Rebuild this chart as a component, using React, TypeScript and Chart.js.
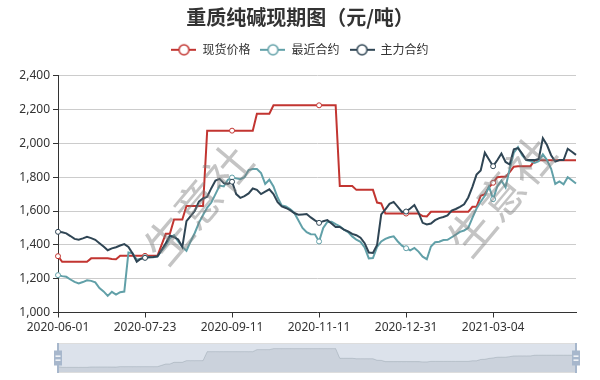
import React, { useEffect, useRef } from 'react';
import { Chart, registerables } from 'chart.js';

Chart.register(...registerables);

// ---- data ----
const TICK_DATES = ['2020-06-01', '2020-07-23', '2020-09-11', '2020-11-11', '2020-12-31', '2021-03-04'];
const LABEL_STEP = 21;

const SPOT = [
  1333, 1300, 1300, 1300, 1300, 1300, 1300, 1300, 1320, 1320,
  1320, 1320, 1320, 1317, 1315, 1335, 1335, 1335, 1335, 1335,
  1335, 1335, 1335, 1335, 1335, 1400, 1465, 1465, 1550, 1550,
  1550, 1630, 1630, 1630, 1630, 1630, 2075, 2075, 2075, 2075,
  2075, 2075, 2075, 2075, 2075, 2075, 2075, 2075, 2175, 2175,
  2175, 2175, 2225, 2225, 2225, 2225, 2225, 2225, 2225, 2225,
  2225, 2225, 2225, 2225, 2225, 2225, 2225, 2225, 1748, 1748,
  1748, 1748, 1725, 1725, 1725, 1725, 1725, 1650, 1645, 1585,
  1585, 1585, 1585, 1585, 1585, 1585, 1585, 1585, 1570, 1568,
  1595, 1595, 1595, 1595, 1595, 1595, 1595, 1595, 1595, 1595,
  1625, 1625, 1690, 1700, 1740, 1767, 1800, 1802, 1802, 1830,
  1862, 1865, 1865, 1865, 1865, 1898, 1900, 1900, 1900, 1900,
  1900, 1900, 1900, 1900, 1900, 1900,
];

const NEAR = [
  1221, 1215, 1211, 1195, 1181, 1172, 1180, 1190, 1187, 1178,
  1145, 1125, 1098, 1122, 1106, 1120, 1124, 1355, 1350, 1312,
  1318, 1326, 1326, 1327, 1330, 1365, 1395, 1440, 1457, 1420,
  1388, 1365, 1420, 1470, 1530, 1576, 1620, 1650, 1700, 1750,
  1745, 1785, 1798, 1793, 1788, 1800, 1842, 1848, 1848, 1825,
  1760, 1785, 1745, 1680, 1632, 1627, 1612, 1590, 1546, 1500,
  1475, 1463, 1462, 1420, 1500, 1535, 1536, 1522, 1510, 1490,
  1475, 1450, 1430, 1418, 1385, 1320, 1322, 1388, 1420, 1435,
  1445, 1450, 1420, 1395, 1380, 1368, 1382, 1360, 1330, 1315,
  1390, 1415, 1418, 1428, 1430, 1445, 1460, 1477, 1485, 1500,
  1560, 1615, 1655, 1690, 1745, 1670, 1745, 1780, 1740, 1850,
  1945, 1978, 1930, 1901, 1895, 1885, 1895, 1935, 1901, 1850,
  1760, 1775, 1758, 1800, 1782, 1763,
];

const MAIN = [
  1477, 1474, 1468, 1452, 1435, 1430, 1438, 1447, 1440, 1430,
  1410, 1390, 1368, 1379, 1386, 1396, 1404, 1388, 1349, 1300,
  1318, 1323, 1326, 1328, 1332, 1370, 1410, 1455, 1445, 1432,
  1388, 1540, 1570, 1600, 1655, 1674, 1684, 1735, 1780, 1790,
  1765, 1760, 1773, 1700, 1678, 1688, 1704, 1733, 1725, 1700,
  1714, 1728, 1700, 1652, 1627, 1618, 1605, 1588, 1578, 1580,
  1582, 1562, 1545, 1530, 1540, 1546, 1526, 1505, 1506, 1490,
  1480, 1465, 1457, 1442, 1410, 1355, 1352, 1400, 1580, 1610,
  1642, 1654, 1625, 1595, 1597, 1615, 1635, 1590, 1530, 1520,
  1526, 1546, 1558, 1565, 1574, 1603, 1612, 1625, 1640, 1680,
  1743, 1815, 1840, 1945, 1905, 1865, 1900, 1940, 1890, 1875,
  1965, 1972, 1940, 1901, 1901, 1901, 1908, 2030, 1990, 1930,
  1892, 1901, 1901, 1968, 1950, 1932,
];

const SERIES_NAMES = ['现货价格', '最近合约', '主力合约'];
const SERIES_COLORS = ['#c23531', '#61a0a8', '#2f4554'];
const TITLE = '重质纯碱现期图（元/吨）';
const WATERMARK = '生意社';

const LABELS = SPOT.map((_, i) =>
  i % LABEL_STEP === 0 && TICK_DATES[i / LABEL_STEP] ? TICK_DATES[i / LABEL_STEP] : ''
);

const FONT = "'Noto Sans', 'Noto Sans CJK SC', sans-serif";
const CJK = "'Noto Sans CJK SC', sans-serif";

function makeIcon(color: string) {
  const c = document.createElement('canvas');
  c.width = 25;
  c.height = 14;
  const g = c.getContext('2d')!;
  g.strokeStyle = color;
  g.lineWidth = 2;
  g.beginPath();
  g.moveTo(0, 7);
  g.lineTo(25, 7);
  g.stroke();
  g.beginPath();
  g.arc(12.5, 7, 5, 0, Math.PI * 2);
  g.fillStyle = '#fff';
  g.fill();
  g.lineWidth = 1.5;
  g.stroke();
  return c;
}

const isMarker = (i: number) => i % LABEL_STEP === 0 && i < SPOT.length - 5;

const watermarkPlugin = {
  id: 'watermark',
  afterDatasetsDraw(chart: any) {
    const ctx = chart.ctx;
    ctx.save();
    ctx.font = "46px 'Noto Sans CJK SC'";
    ctx.fillStyle = 'rgba(125,125,125,0.45)';
    ctx.textAlign = 'center';
    ctx.textBaseline = 'middle';
    const spots = [
      [198, 204],
      [501, 196],
    ];
    for (const [x, y] of spots) {
      ctx.save();
      ctx.translate(x, y);
      ctx.rotate((-50 * Math.PI) / 180);
      ctx.fillText(WATERMARK, 0, 0);
      ctx.restore();
    }
    ctx.restore();
  },
};

const sliderPlugin = {
  id: 'sliderDecor',
  beforeDatasetsDraw(chart: any) {
    const { ctx, chartArea: a } = chart;
    ctx.save();
    ctx.fillStyle = 'rgba(167,183,204,0.4)';
    ctx.fillRect(a.left, a.top, a.right - a.left, a.bottom - a.top);
    ctx.restore();
  },
  afterDraw(chart: any) {
    const { ctx, chartArea: a } = chart;
    ctx.save();
    ctx.strokeStyle = '#ddd';
    ctx.lineWidth = 1;
    ctx.strokeRect(a.left + 0.5, a.top + 0.5, a.right - a.left - 1, a.bottom - a.top - 1);
    const h = a.bottom - a.top;
    for (const x of [a.left, a.right]) {
      ctx.fillStyle = '#a7b7cc';
      ctx.fillRect(Math.round(x) - 1, a.top, 2, h);
      const rw = 8;
      const rh = 15;
      const ry = a.top + (h - rh) / 2;
      ctx.fillRect(Math.round(x) - rw / 2, ry, rw, rh);
      ctx.fillStyle = '#fff';
      ctx.fillRect(Math.round(x) - 2.5, ry + 5, 5, 1.3);
      ctx.fillRect(Math.round(x) - 2.5, ry + 9, 5, 1.3);
    }
    ctx.restore();
  },
};

export default function App() {
  const mainRef = useRef<HTMLCanvasElement>(null);
  const zoomRef = useRef<HTMLCanvasElement>(null);

  useEffect(() => {
    Chart.defaults.font.family = FONT;
    const icons = SERIES_COLORS.map(makeIcon);
    const seriesData = [SPOT, NEAR, MAIN];
    const orders = [3, 2, 1];

    const main = new Chart(mainRef.current!, {
      type: 'line',
      data: {
        labels: LABELS,
        datasets: seriesData.map((d, k) => ({
          label: SERIES_NAMES[k],
          data: d,
          borderColor: SERIES_COLORS[k],
          backgroundColor: SERIES_COLORS[k],
          borderWidth: 2,
          tension: 0,
          fill: false,
          order: orders[k],
          yAxisID: 'y',
          pointBackgroundColor: '#fff',
          pointBorderColor: SERIES_COLORS[k],
          pointBorderWidth: 1,
          pointRadius: (ctx: any) => (isMarker(ctx.dataIndex) ? 2.5 : 0),
          pointHoverRadius: 0,
        })),
      },
      options: {
        responsive: false,
        animation: false,
        devicePixelRatio: 1,
        layout: { padding: 0 },
        plugins: {
          title: {
            display: true,
            text: TITLE,
            color: '#333',
            font: { size: 20, weight: 'bold', family: CJK },
            padding: { top: 5, bottom: 4.8 },
          },
          subtitle: {
            display: true,
            text: '',
            font: { size: 1 },
            padding: { top: 0, bottom: 8.7 },
            weight: 500,
          } as any,
          legend: {
            display: true,
            labels: {
              usePointStyle: true,
              pointStyleWidth: 25,
              boxHeight: 14,
              color: '#333',
              padding: 10,
              font: { size: 12, family: CJK },
              sort: (a: any, b: any) => a.datasetIndex - b.datasetIndex,
              generateLabels: (chart: any) =>
                Chart.defaults.plugins.legend.labels
                  .generateLabels(chart)
                  .map((l: any) => ({ ...l, pointStyle: icons[l.datasetIndex] })),
            },
          },
          tooltip: { enabled: false },
        },
        scales: {
          x: {
            type: 'category',
            grid: {
              display: true,
              drawOnChartArea: false,
              drawTicks: true,
              tickLength: 5,
              color: '#333',
            },
            border: { color: '#333', width: 1 },
            ticks: {
              autoSkip: false,
              maxRotation: 0,
              minRotation: 0,
              padding: 3,
              color: '#333',
              font: { size: 12 },
            },
            afterBuildTicks: (s: any) => {
              s.ticks = s.ticks.filter((t: any) => t.value % LABEL_STEP === 0);
            },
            afterFit: (s: any) => {
              s.height = 380 - 312.5;
            },
          },
          y: {
            position: 'left',
            min: 1000,
            max: 2400,
            ticks: {
              stepSize: 200,
              color: '#333',
              padding: 3,
              font: { size: 12 },
              callback: (v: any) => Number(v).toLocaleString('en-US'),
            },
            grid: { color: '#ccc', tickColor: '#333', tickLength: 5 },
            border: { color: '#333', width: 1 },
            afterFit: (s: any) => {
              s.width = 58;
            },
          },
          yRightGap: {
            position: 'right',
            display: true,
            min: 1000,
            max: 2400,
            grid: { display: false, drawTicks: false },
            border: { display: false },
            ticks: { display: false },
            afterFit: (s: any) => {
              s.width = 24;
            },
          },
        },
      } as any,
      plugins: [watermarkPlugin],
    });

    const lo = Math.min(...SPOT);
    const hi = Math.max(...SPOT);
    const pad = (hi - lo) * 0.3;

    const zoom = new Chart(zoomRef.current!, {
      type: 'line',
      data: {
        labels: LABELS,
        datasets: [
          {
            data: SPOT,
            borderColor: 'rgba(47,69,84,0.25)',
            borderWidth: 0.7,
            backgroundColor: 'rgba(47,69,84,0.1)',
            fill: 'start',
            pointRadius: 0,
            tension: 0,
          },
        ],
      },
      options: {
        responsive: false,
        animation: false,
        devicePixelRatio: 1,
        layout: { padding: { left: 8, right: 8, top: 0, bottom: 0 } },
        scales: {
          x: { display: false },
          y: { display: false, min: lo - pad, max: hi + pad },
        },
        plugins: { legend: { display: false }, tooltip: { enabled: false }, title: { display: false } },
      } as any,
      plugins: [sliderPlugin],
    });

    return () => {
      main.destroy();
      zoom.destroy();
    };
  }, []);

  return (
    <div style={{ position: 'absolute', left: 0, top: 0, width: 600, height: 380, background: '#fff' }}>
      <canvas ref={mainRef} width={600} height={380} style={{ position: 'absolute', left: 0, top: 0 }} />
      <canvas ref={zoomRef} width={534} height={30} style={{ position: 'absolute', left: 50, top: 343 }} />
    </div>
  );
}
